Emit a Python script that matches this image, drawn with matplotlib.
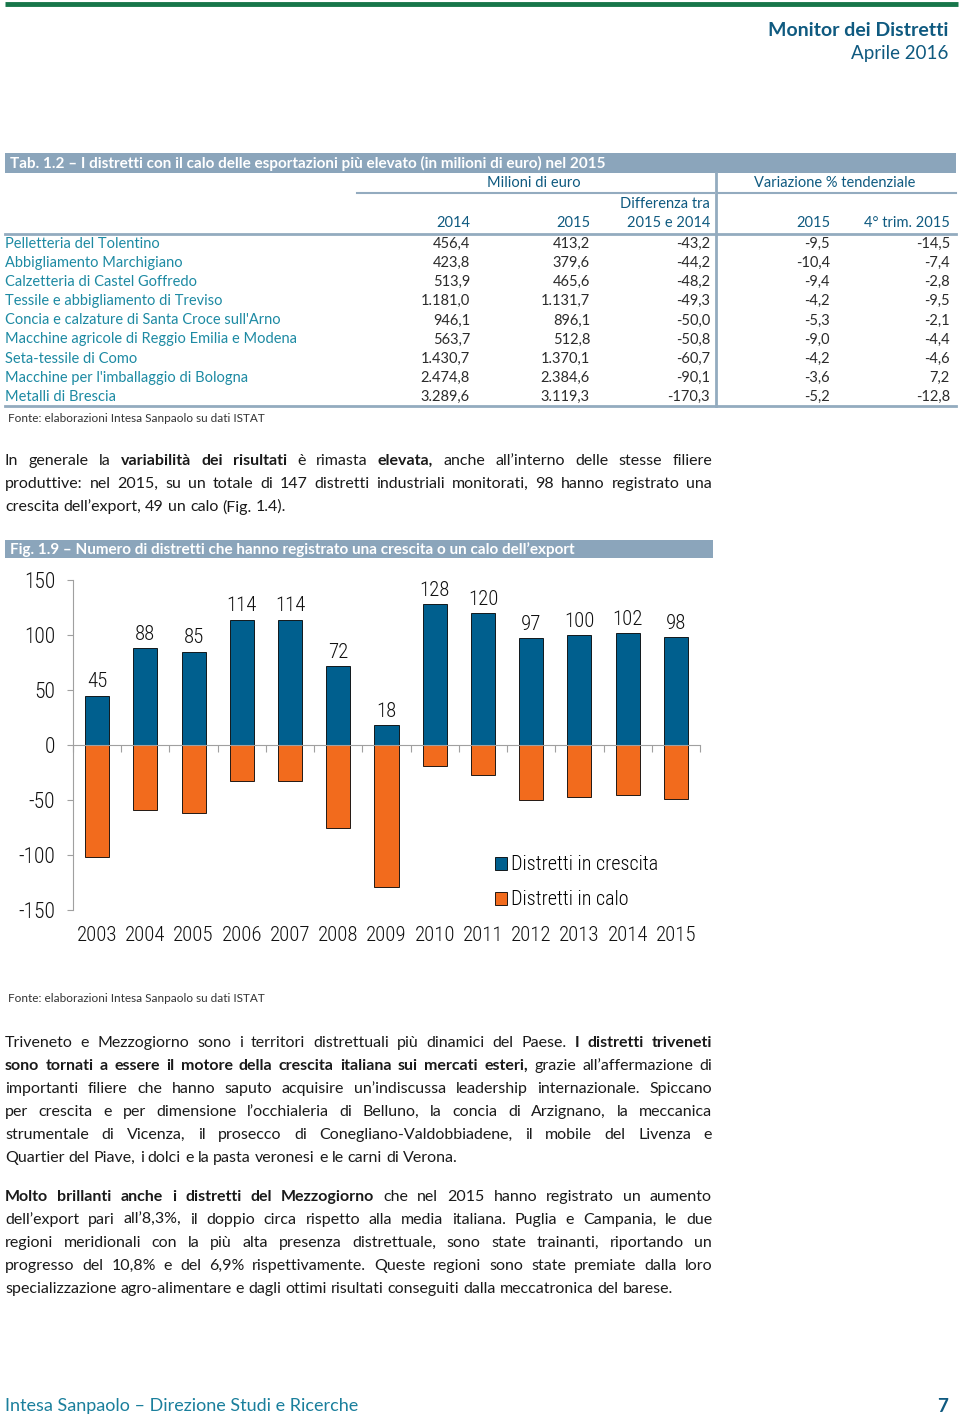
import numpy as np
import matplotlib.pyplot as plt
from matplotlib import font_manager as fm
from matplotlib.patches import Rectangle, Patch

# --- dati tabella 1.2 ---
distretti = [
    "Pelletteria del Tolentino",
    "Abbigliamento Marchigiano",
    "Calzetteria di Castel Goffredo",
    "Tessile e abbigliamento di Treviso",
    "Concia e calzature di Santa Croce sull'Arno",
    "Macchine agricole di Reggio Emilia e Modena",
    "Seta-tessile di Como",
    "Macchine per l'imballaggio di Bologna",
    "Metalli di Brescia",
]
exp_2014 = [456.4, 423.8, 513.9, 1181.0, 946.1, 563.7, 1430.7, 2474.8, 3289.6]
exp_2015 = [413.2, 379.6, 465.6, 1131.7, 896.1, 512.8, 1370.1, 2384.6, 3119.3]
differenza = [-43.2, -44.2, -48.2, -49.3, -50.0, -50.8, -60.7, -90.1, -170.3]
var_2015 = [-9.5, -10.4, -9.4, -4.2, -5.3, -9.0, -4.2, -3.6, -5.2]
var_4trim = [-14.5, -7.4, -2.8, -9.5, -2.1, -4.4, -4.6, 7.2, -12.8]

# --- dati fig. 1.9 ---
anni = [str(a) for a in range(2003, 2016)]
in_crescita = [45, 88, 85, 114, 114, 72, 18, 128, 120, 97, 100, 102, 98]
in_calo = [-102, -59, -62, -33, -33, -75, -129, -19, -27, -50, -47, -45, -49]

# --- testo (gli asterischi marcano il grassetto) ---
par1 = [
    "In generale la *variabilità dei risultati* è rimasta *elevata*, anche all’interno delle stesse filiere",
    "produttive: nel 2015, su un totale di 147 distretti industriali monitorati, 98 hanno registrato una",
    "crescita dell’export, 49 un calo (Fig. 1.4).",
]
par2 = [
    "Triveneto e Mezzogiorno sono i territori distrettuali più dinamici del Paese. *I distretti triveneti*",
    "*sono tornati a essere il motore della crescita italiana sui mercati esteri*, grazie all’affermazione di",
    "importanti filiere che hanno saputo acquisire un’indiscussa leadership internazionale. Spiccano",
    "per crescita e per dimensione l’occhialeria di Belluno, la concia di Arzignano, la meccanica",
    "strumentale di Vicenza, il prosecco di Conegliano-Valdobbiadene, il mobile del Livenza e",
    "Quartier del Piave, i dolci e la pasta veronesi e le carni di Verona.",
]
par3 = [
    "*Molto brillanti anche i distretti del Mezzogiorno* che nel 2015 hanno registrato un aumento",
    "dell’export pari all’8,3%, il doppio circa rispetto alla media italiana. Puglia e Campania, le due",
    "regioni meridionali con la più alta presenza distrettuale, sono state trainanti, riportando un",
    "progresso del 10,8% e del 6,9% rispettivamente. Queste regioni sono state premiate dalla loro",
    "specializzazione agro-alimentare e dagli ottimi risultati conseguiti dalla meccatronica del barese.",
]

BLU = "#005f8e"
ARANCIO = "#f26b1d"
BANNER = "#8ba5bb"
TITOLO = "#0f5a80"
TEAL = "#1d8aa3"
LINEA = "#93abbf"
BASE = ["Lato", "DejaVu Sans"]


def cerca_stretto():
    # un carattere condensato, se installato; altrimenti None
    for fam in ["Roboto Condensed", "Open Sans Condensed", "Liberation Sans Narrow",
                "Noto Sans Condensed", "DejaVu Sans Condensed"]:
        try:
            fm.findfont(fm.FontProperties(family=fam), fallback_to_default=False)
            return fam
        except ValueError:
            pass
    return None


stretto = cerca_stretto()
if stretto:
    CHART = [stretto, "Lato"]
    fs_anni, fs_val, fs_ass, fs_leg = 15, 15, 15.5, 14.5
else:
    CHART = BASE
    fs_anni, fs_val, fs_ass, fs_leg = 13, 13.5, 14, 13.5


def it(v):
    s = f"{v:,.1f}"
    return s.replace(",", "X").replace(".", ",").replace("X", ".")


W, H = 960, 1421
fig = plt.figure(figsize=(9.6, 14.21), dpi=100)
page = fig.add_axes([0, 0, 1, 1])
page.set_xlim(0, W)
page.set_ylim(H, 0)
page.axis("off")
renderer = fig.canvas.get_renderer()


def larghezza(txt, **kw):
    t = page.text(0, 0, txt, **kw)
    w = t.get_window_extent(renderer).width
    t.remove()
    return w


def paragrafo(righe, y0, passo=23, x0=5, x1=712, size=11.5):
    kw = dict(fontsize=size, family=BASE, color="#1a1a1a")
    spazio = larghezza("x x", **kw) - larghezza("xx", **kw)
    for i, riga in enumerate(righe):
        parole, grassetto = [], []
        stato = False
        for tok in riga.split(" "):
            if tok.startswith("*"):
                stato = True
            parole.append(tok.replace("*", ""))
            grassetto.append(stato)
            if tok.rstrip(",.").endswith("*"):
                stato = False
        larg = [larghezza(p, fontweight="bold" if b else "normal", **kw)
                for p, b in zip(parole, grassetto)]
        if i == len(righe) - 1:
            gap = spazio
        else:
            gap = (x1 - x0 - sum(larg)) / (len(parole) - 1)
        x = x0
        for p, b, w in zip(parole, grassetto, larg):
            page.text(x, y0 + i * passo, p, va="center", ha="left",
                      fontweight="bold" if b else "normal", **kw)
            x += w + gap


# intestazione pagina
page.plot([5, 958], [4, 4], color="#17764a", lw=3.5, solid_capstyle="butt")
page.text(948, 31, "Monitor dei Distretti", ha="right", va="center",
          fontsize=14, fontweight="bold", color=TITOLO, family=BASE)
page.text(948, 53, "Aprile 2016", ha="right", va="center",
          fontsize=13.5, color=TITOLO, family=BASE)

# tabella
page.add_patch(Rectangle((5, 153), 951, 20, color=BANNER, lw=0))
page.text(10, 163.5, "Tab. 1.2 – I distretti con il calo delle esportazioni più elevato (in milioni di euro) nel 2015",
          va="center", ha="left", fontsize=11, fontweight="bold", color="white", family=BASE)
hk = dict(fontsize=10.5, color=TITOLO, family=BASE, va="center")
page.text(534, 183, "Milioni di euro", ha="center", **hk)
page.text(835, 183, "Variazione % tendenziale", ha="center", **hk)
page.plot([357, 714], [193, 193], color=LINEA, lw=1.5)
page.plot([717, 956], [193, 193], color=LINEA, lw=1.5)
page.plot([715.5, 715.5], [173, 406], color=LINEA, lw=2)
page.text(710, 204, "Differenza tra", ha="right", **hk)
colonne_x = [470, 590, 710, 830, 950]
for x, lab in zip(colonne_x, ["2014", "2015", "2015 e 2014", "2015", "4° trim. 2015"]):
    page.text(x, 223, lab, ha="right", **hk)
page.plot([5, 956], [233.5, 233.5], color=LINEA, lw=2)
page.plot([5, 956], [406, 406], color=LINEA, lw=2)
for i, nome in enumerate(distretti):
    y = 244 + i * 19.1
    page.text(5, y, nome, ha="left", va="center", fontsize=10.5, color=TEAL, family=BASE)
    valori = [exp_2014[i], exp_2015[i], differenza[i], var_2015[i], var_4trim[i]]
    for x, v in zip(colonne_x, valori):
        page.text(x, y, it(v), ha="right", va="center", fontsize=10.5, color="#2b2b2b", family=BASE)
page.text(8, 418, "Fonte: elaborazioni Intesa Sanpaolo su dati ISTAT", ha="left", va="center",
          fontsize=8.5, color="#333333", family=BASE)

# testo
paragrafo(par1, 461)

# figura 1.9
page.add_patch(Rectangle((5, 540), 708, 18, color=BANNER, lw=0))
page.text(10, 549.5, "Fig. 1.9 – Numero di distretti che hanno registrato una crescita o un calo dell’export",
          va="center", ha="left", fontsize=11, fontweight="bold", color="white", family=BASE)

ax = fig.add_axes([73 / W, 1 - 910 / H, (700 - 73) / W, 330 / H])
ax.patch.set_alpha(0)
pos = np.arange(len(anni))
ax.bar(pos, in_crescita, width=0.5, color=BLU, edgecolor="black", linewidth=0.6,
       label="Distretti in crescita")
ax.bar(pos, in_calo, width=0.5, color=ARANCIO, edgecolor="black", linewidth=0.6,
       label="Distretti in calo")
for x, v in zip(pos, in_crescita):
    ax.annotate(str(v), (x, v), xytext=(0, 3), textcoords="offset points",
                ha="center", va="bottom", fontsize=fs_val, family=CHART,
                fontweight="light", color="#111111")
for x, a in zip(pos, anni):
    ax.text(x, -173, a, ha="center", va="center", fontsize=fs_anni, family=CHART,
            fontweight="light", color="#111111", clip_on=False)
ax.set_xlim(-0.5, len(anni) - 0.5)
ax.set_ylim(-150, 150)
ax.set_yticks([-150, -100, -50, 0, 50, 100, 150])
ax.set_yticklabels(["-150", "-100", "-50", "0", "50", "100", "150"], family=CHART,
                   fontsize=fs_ass, fontweight="light", color="#111111")
ax.set_xticks(np.arange(-0.5, len(anni)))
ax.set_xticklabels([])
ax.spines["top"].set_visible(False)
ax.spines["right"].set_visible(False)
ax.spines["bottom"].set_position(("data", 0))
ax.spines["bottom"].set_color("#a0a0a0")
ax.spines["left"].set_color("#a0a0a0")
ax.tick_params(axis="y", length=4, pad=9, color="#a0a0a0")
ax.tick_params(axis="x", length=5, color="#a0a0a0")
ax.legend(handles=[Patch(facecolor=BLU, edgecolor="black", lw=0.6),
                   Patch(facecolor=ARANCIO, edgecolor="black", lw=0.6)],
          labels=["Distretti in crescita", "Distretti in calo"],
          loc="upper left", bbox_to_anchor=(0.66, 0.19), frameon=False,
          handlelength=0.6, handleheight=0.6, handletextpad=0.2, labelspacing=0.8,
          prop=dict(family=CHART, size=fs_leg, weight="light"), borderaxespad=0)

page.text(8, 999, "Fonte: elaborazioni Intesa Sanpaolo su dati ISTAT", ha="left", va="center",
          fontsize=8.5, color="#333333", family=BASE)

paragrafo(par2, 1043)
paragrafo(par3, 1197)

# piè di pagina
page.text(5, 1406, "Intesa Sanpaolo – Direzione Studi e Ricerche", ha="left", va="center",
          fontsize=13, color="#1a7f9c", family=BASE)
page.text(948, 1406, "7", ha="right", va="center", fontsize=13.5, fontweight="bold",
          color=TITOLO, family=BASE)

fig.savefig("out.png", dpi=100)
